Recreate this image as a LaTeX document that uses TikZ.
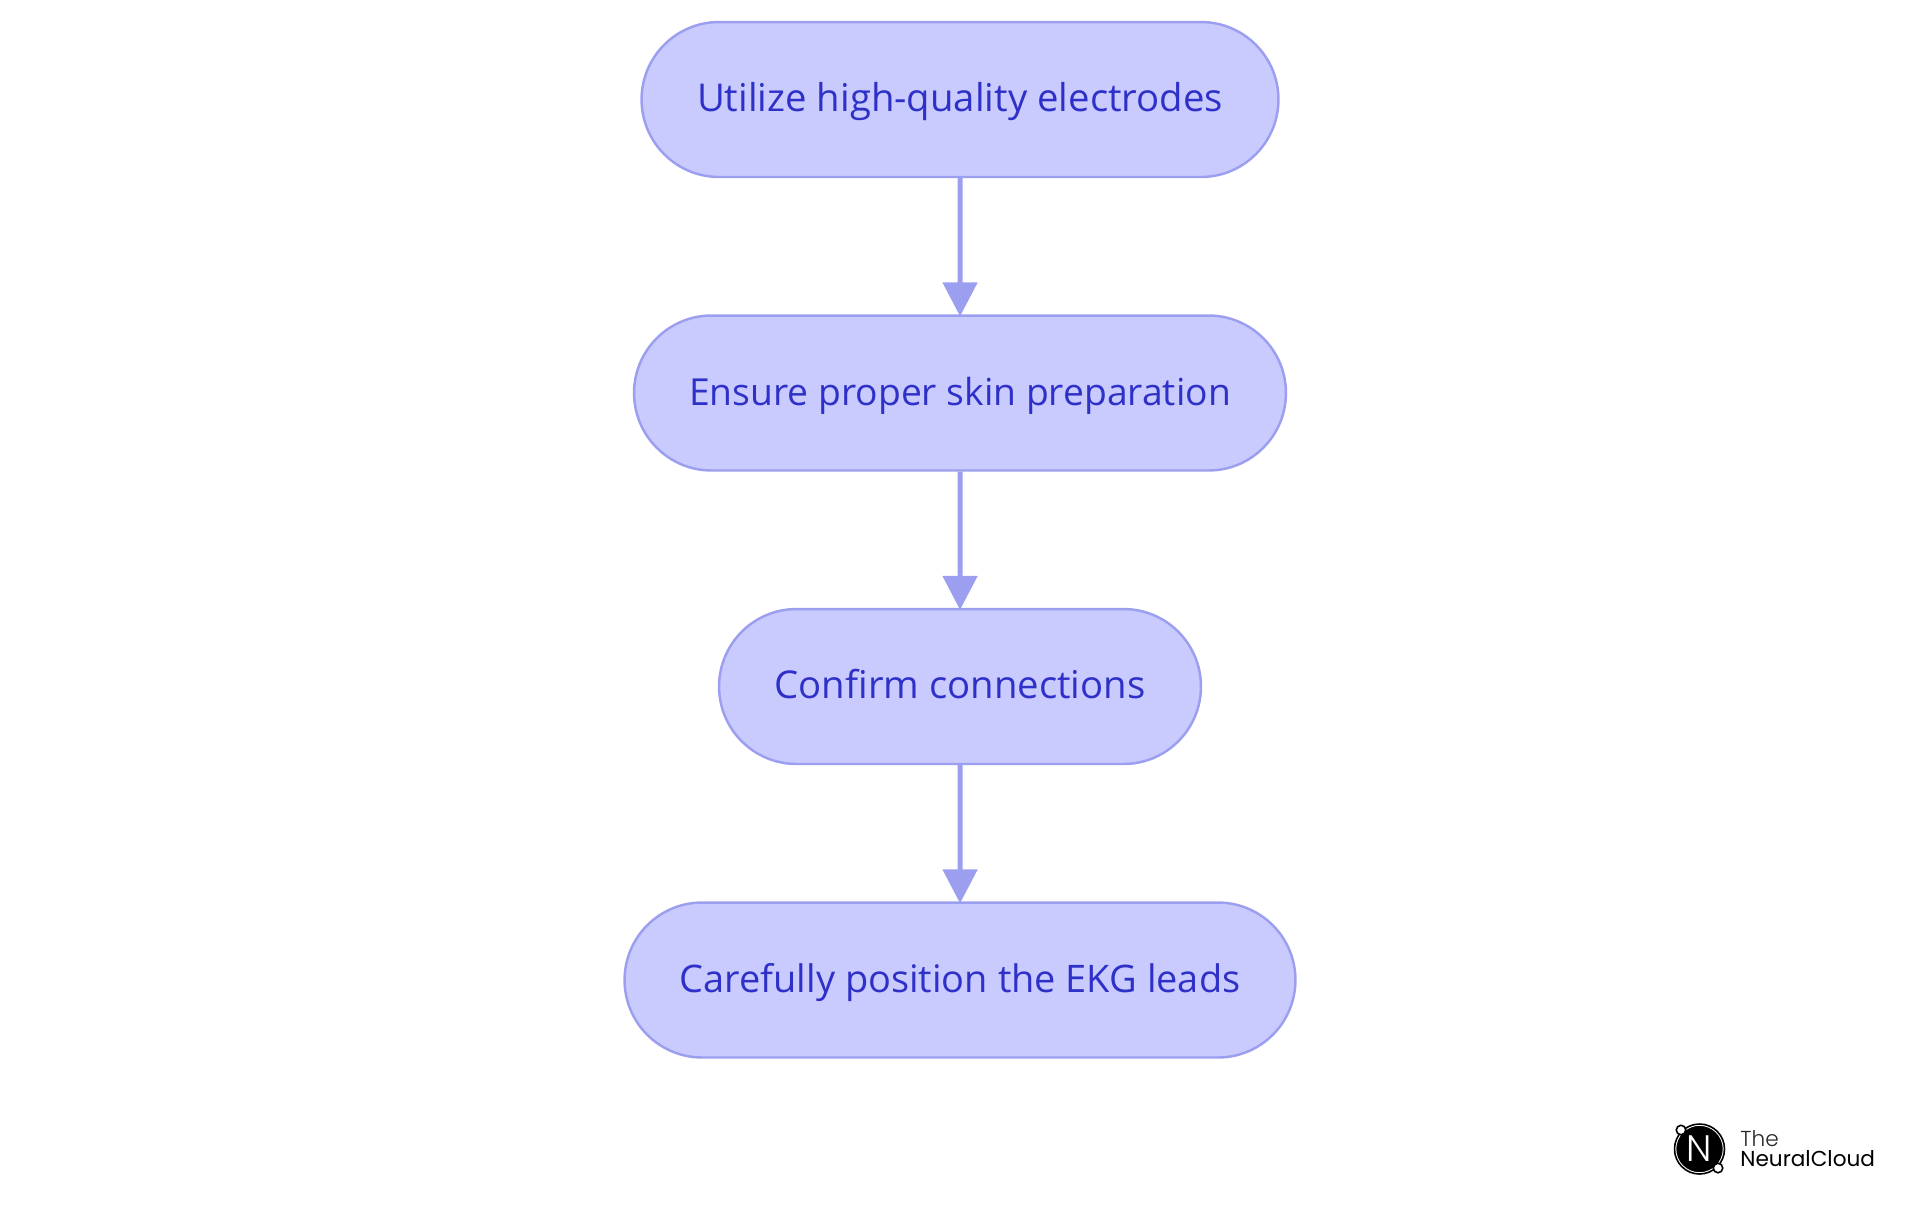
\documentclass[tikz,border=0pt]{standalone}
\usepackage{fontspec}
\usetikzlibrary{arrows.meta,shapes.misc}
\setmainfont{Open Sans}
\newfontfamily\logofont{Poppins Light}
\newfontfamily\logoboldfont{Poppins}
\definecolor{stepfill}{HTML}{C9CBFE}
\definecolor{stepline}{HTML}{9C9FF0}
\definecolor{steptext}{HTML}{2E30C8}
\tikzset{
	stepbox/.style={rounded rectangle, draw=stepline, fill=stepfill, line width=1.4pt, text=steptext,
		minimum height=3.1cm, inner xsep=0pt, text height=0.6cm, text depth=0.12cm, font=\fontsize{21.8}{24}\selectfont},
	flow/.style={-{Triangle[length=0.68cm,width=0.68cm]}, draw=stepline, line width=2.8pt, shorten >=-1.2pt},
}
\begin{document}
\begin{tikzpicture}[x=0.02cm, y=-0.02cm]
		\useasboundingbox (0,0) rectangle (1920,1215);
		%steps
		\node (electrodes) at (960,99.5) [stepbox, minimum width=12.74cm]{Utilize high-quality electrodes};
		\node (skin) at (960,393) [stepbox, minimum width=13.04cm, font=\fontsize{21.2}{24}\selectfont]{Ensure proper skin preparation};
		\node (connections) at (960,686.5) [stepbox, minimum width=9.64cm]{Confirm connections};
		\node (leads) at (960,980) [stepbox, minimum width=13.42cm, font=\fontsize{21.6}{24}\selectfont]{Carefully position the EKG leads};
		
		\draw[flow] (electrodes) -- (skin);
		\draw[flow] (skin) -- (connections);
		\draw[flow] (connections) -- (leads);
		
		%logo
		\node (logoring) at (1699.5,1149) [circle, fill=black, draw=white, line width=0.6pt, minimum size=0.95cm, inner sep=0pt]{};
		\node (logoouter) at (1699.5,1149) [circle, draw=black, line width=0.9pt, minimum size=1.0cm, inner sep=0pt]{};
		\node (logoN) at (1699.5,1149) [text=white, font=\logofont\fontsize{21}{22}\selectfont]{N};
		\node (dotone) at (1681,1130) [circle, fill=white, draw=black, line width=0.9pt, minimum size=0.19cm, inner sep=0pt]{};
		\node (dottwo) at (1718,1168) [circle, fill=white, draw=black, line width=0.9pt, minimum size=0.19cm, inner sep=0pt]{};
		\node (logothe) at (1740,1146) [anchor=base west, inner sep=0pt, text=black!85, font=\logofont\fontsize{12.3}{14}\selectfont]{The};
		\node (logoname) at (1740,1166) [anchor=base west, inner sep=0pt, text=black, font=\logoboldfont\fontsize{12.3}{14}\selectfont]{NeuralCloud};
		\end{tikzpicture}
\end{document}
